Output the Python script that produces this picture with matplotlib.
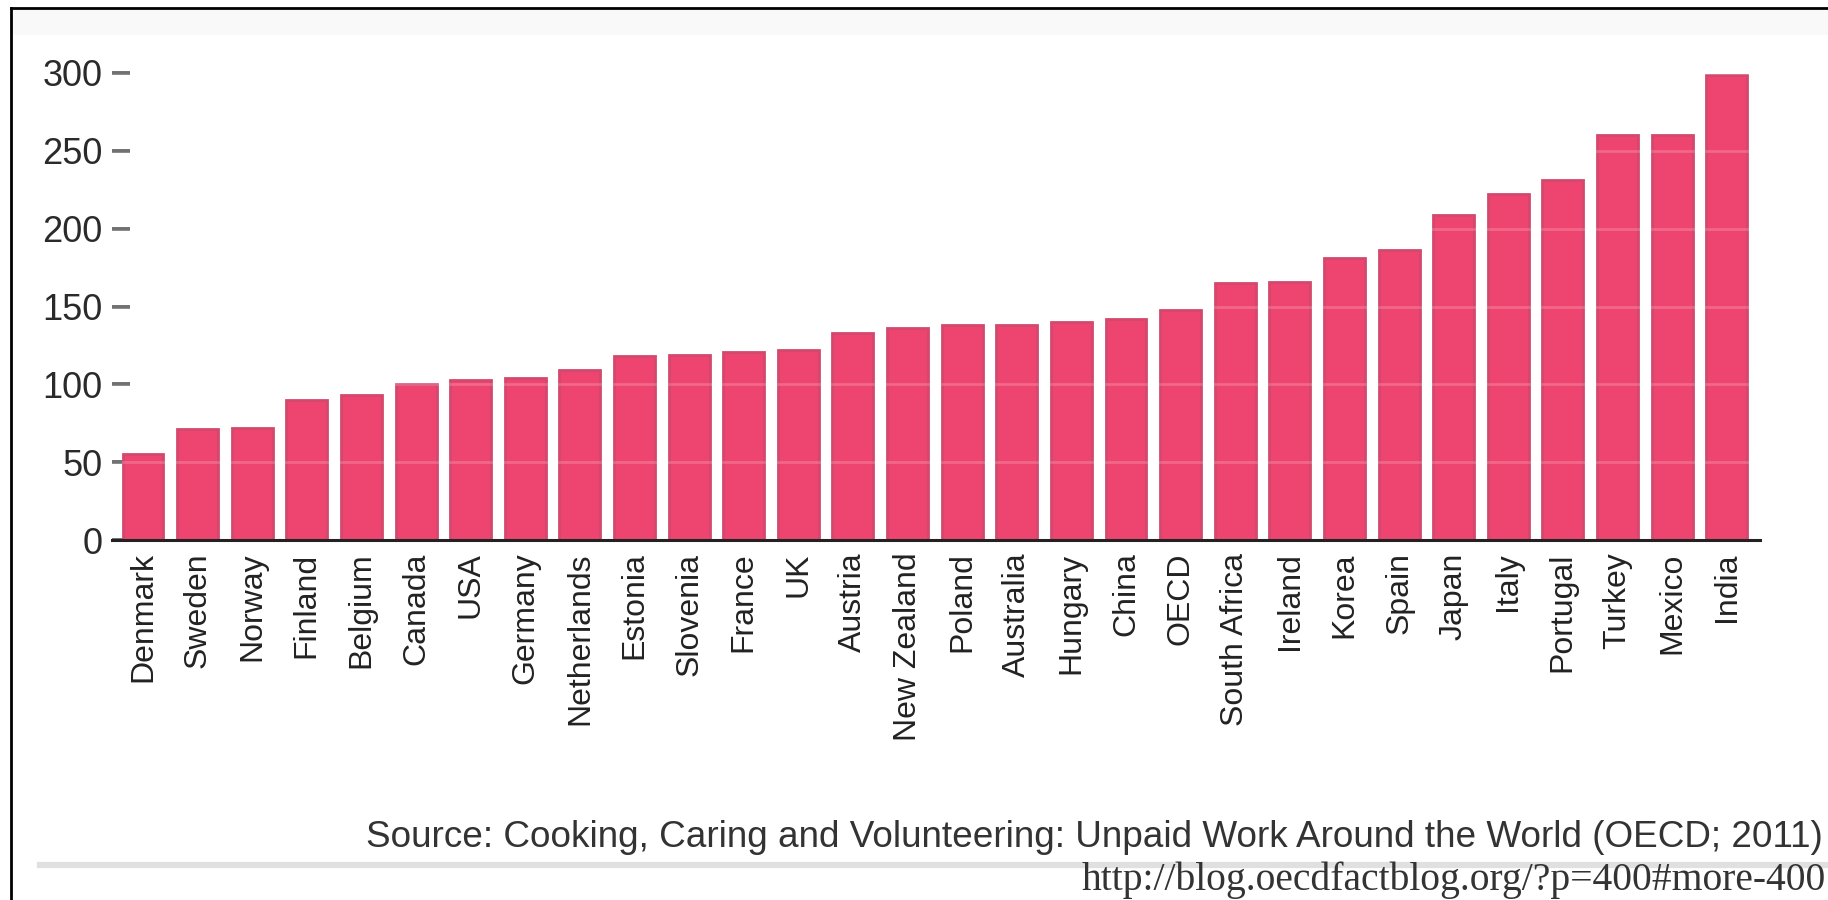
import matplotlib
matplotlib.use('Agg')
import numpy as np
import matplotlib.pyplot as plt
from matplotlib.lines import Line2D
from matplotlib.patches import Rectangle

countries = ['Denmark', 'Sweden', 'Norway', 'Finland', 'Belgium', 'Canada', 'USA',
             'Germany', 'Netherlands', 'Estonia', 'Slovenia', 'France', 'UK', 'Austria',
             'New Zealand', 'Poland', 'Australia', 'Hungary', 'China', 'OECD',
             'South Africa', 'Ireland', 'Korea', 'Spain', 'Japan', 'Italy', 'Portugal',
             'Turkey', 'Mexico', 'India']
minutes = [55, 71, 72, 90, 93, 100, 103, 104, 109, 118, 119, 121, 122, 133,
           136, 138, 138, 140, 142, 148, 165, 166, 181, 186, 209, 222, 231,
           260, 260, 299]
yticks = [0, 50, 100, 150, 200, 250, 300]

source_text = 'Source: Cooking, Caring and Volunteering: Unpaid Work Around the World (OECD; 2011)'
url_text = 'http://blog.oecdfactblog.org/?p=400#more-400'

W, H = 1828, 900
fig = plt.figure(figsize=(W / 100, H / 100), dpi=100)
fig.patch.set_facecolor('white')

# faint band under the top border
fig.patches.append(Rectangle((12 / W, 1 - 35 / H), 1, 26 / H, transform=fig.transFigure,
                             facecolor='#f9f9f9', edgecolor='none', zorder=0))

ymax = 305
ax_left, ax_right = 112 / W, 1760 / W
ax_bottom = (H - 540) / H
ax_height = (467 * ymax / 300) / H
ax = fig.add_axes([ax_left, ax_bottom, ax_right - ax_left, ax_height])
ax.set_facecolor('none')

x = np.arange(len(countries))
ax.bar(x, minutes, width=0.75, color='#EE4570', edgecolor='#D4486D', linewidth=2, zorder=2)

# light stripes across the bars at the tick values
for v in yticks[1:]:
    ax.axhline(v, color='white', alpha=0.18, linewidth=2, zorder=3)

ax.set_xlim(-0.568, 29.61)
ax.set_ylim(0, ymax)
ax.set_yticks(yticks)
ax.set_xticks(x)
ax.set_xticklabels(countries, rotation=90, fontsize=23, family='Liberation Sans', color='#222222')
ax.tick_params(axis='x', length=0, pad=9)
ax.tick_params(axis='y', direction='in', length=13, width=2.6, color='#555555', pad=7,
               labelsize=26, labelcolor='#2a2a2a')
for lab in ax.get_yticklabels():
    lab.set_family('Liberation Sans')

for side in ['left', 'top', 'right']:
    ax.spines[side].set_visible(False)
ax.spines['bottom'].set_color('#222222')
ax.spines['bottom'].set_linewidth(2.2)
ax.spines['bottom'].set_zorder(4)

fig.text(1823 / W, (H - 847) / H, source_text, ha='right', va='baseline',
         fontsize=26.6, family='Liberation Sans', color='#333333')

# gray separator line
fig.add_artist(Line2D([40 / W, 1.0], [(H - 865) / H] * 2, transform=fig.transFigure,
                      color='#e0e0e0', linewidth=4.5))

fig.text(1826 / W, 10 / H, url_text, ha='right', va='baseline',
         fontsize=28.5, family='Liberation Serif', color='#333333')

# frame: left and top border
fig.add_artist(Line2D([11 / W, 11 / W], [0, 1 - 8 / H], transform=fig.transFigure,
                      color='black', linewidth=2))
fig.add_artist(Line2D([11 / W, 1.0], [1 - 8 / H] * 2, transform=fig.transFigure,
                      color='black', linewidth=2))

fig.savefig('out.png', dpi=100)
